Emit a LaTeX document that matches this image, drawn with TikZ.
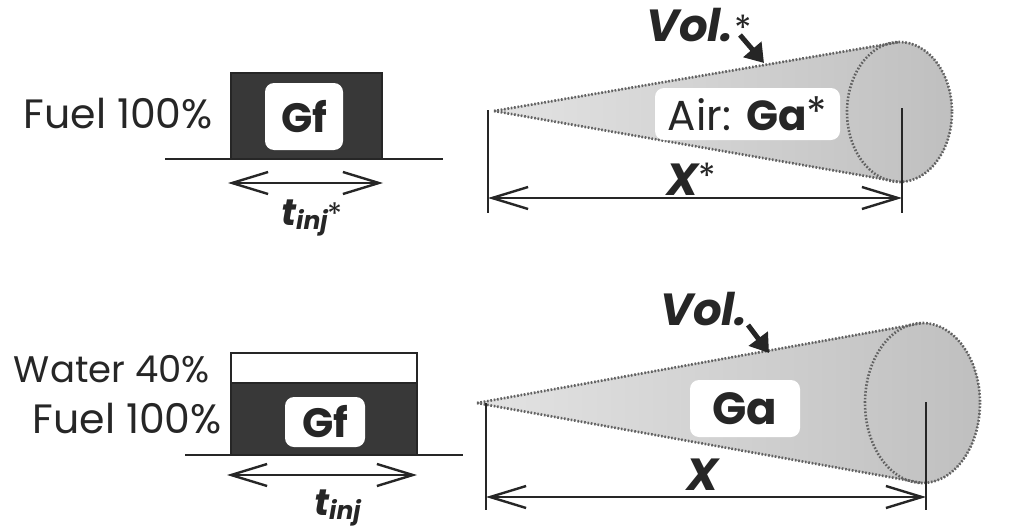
\documentclass[tikz,border=0pt]{standalone}
\usepackage{fontspec}
\setmainfont{Poppins}
\usetikzlibrary{arrows.meta}
\definecolor{ink}{gray}{0.15}
\definecolor{fueldark}{gray}{0.22}
\begin{document}
\begin{tikzpicture}[x=1pt,y=-1pt,
  lbl/.style={inner sep=0pt, text=ink, font=\fontsize{41}{41}\selectfont},
  fuelbox/.style={draw=ink, line width=2pt, fill=fueldark, inner sep=0pt},
  waterbox/.style={draw=ink, line width=2pt, fill=white, inner sep=0pt},
  gfbox/.style={fill=white, rounded corners=9pt, inner sep=0pt, text=ink,
     font=\fontsize{41}{41}\selectfont\bfseries},
  ground/.style={draw=ink, line width=2.2pt},
  dimarrow/.style={draw=ink, line width=2.4pt,
     {Straight Barb[length=36pt,width=22pt,line width=2.4pt]}-{Straight Barb[length=36pt,width=22pt,line width=2.4pt]}},
  tick/.style={draw=ink, line width=2.2pt},
  conefill/.style={left color=gray!22, right color=gray!50, draw=none},
  conedot/.style={draw=black!62, line width=2.6pt, dash pattern=on 1.6pt off 1.8pt},
  volarrow/.style={draw=ink, line width=5pt, -{Triangle[length=18pt,width=23pt]}},
  emlbl/.style={inner sep=0pt, text=ink, font=\fontsize{45}{45}\selectfont\bfseries\itshape},
  tlbl/.style={inner sep=0pt, text=ink, font=\fontsize{37}{37}\selectfont\bfseries\itshape},
]
\useasboundingbox (0,0) rectangle (1030,527);

% ================= TOP ROW =================
\node[fuelbox, minimum width=151pt, minimum height=86pt] (fb1) at (306.5,116) {};
\coordinate (g1a) at (165,159);
\coordinate (g1b) at (443,159);
\draw[ground] (g1a) -- (g1b);
\node[lbl, anchor=base east] (fuel1) at (213,128) {Fuel 100\%};
\node[gfbox, minimum width=78pt, minimum height=67pt] (gf1) at (304,116.5) {Gf};
\coordinate (t1a) at (228,183);
\coordinate (t1b) at (383,183);
\draw[dimarrow] (t1a) -- (t1b);
\node[tlbl, anchor=base west] (tinj1) at (281,225)
  {t\raisebox{-0.2ex}{\fontsize{25}{25}\selectfont inj}{\fontsize{31}{31}\selectfont\mdseries\upshape *}};

% cone top
\coordinate (apex1) at (494,111);
\coordinate (ct1) at (899.5,42);
\coordinate (cb1) at (899.5,182);
\fill[conefill] (apex1) -- (ct1) arc[start angle=-90, end angle=90, x radius=52.5, y radius=70] -- cycle;
\draw[conedot] (apex1) -- (ct1);
\draw[conedot] (apex1) -- (cb1);
\draw[conedot] (899.5,112) ellipse[x radius=52.5, y radius=70];
\node[gfbox, minimum width=185pt, minimum height=52pt, font=\fontsize{42}{42}\selectfont] (air1) at (747.5,114)
  {Air: \textbf{Ga}\raisebox{0.15ex}{*}};
\coordinate (xl1) at (488,110);
\coordinate (xl1b) at (488,213);
\coordinate (xr1) at (902,108);
\coordinate (xr1b) at (902,213);
\draw[tick] (xl1) -- (xl1b);
\draw[tick] (xr1) -- (xr1b);
\coordinate (d1a) at (488,198);
\coordinate (d1b) at (902,198);
\draw[dimarrow] (d1a) -- (d1b);
\node[emlbl, anchor=base west] (x1) at (666,195) {X\raisebox{0.2ex}{\fontsize{36}{36}\selectfont\mdseries\upshape *}};
\node[emlbl, anchor=base west] (vol1) at (646,42) {Vol.\hspace{1pt}{\fontsize{36}{36}\selectfont\mdseries\upshape *}};
\coordinate (va1) at (740,35);
\coordinate (vb1) at (764,63);
\draw[volarrow] (va1) -- (vb1);

% ================= BOTTOM ROW =================
\node[waterbox, minimum width=186pt, minimum height=30pt] (wb2) at (324,368) {};
\node[fuelbox, minimum width=186pt, minimum height=72pt] (fb2) at (324,419) {};
\coordinate (g2a) at (185,455);
\coordinate (g2b) at (463,455);
\draw[ground] (g2a) -- (g2b);
\node[lbl, anchor=base east, font=\fontsize{37}{37}\selectfont] (water2) at (210,382) {Water 40\%};
\node[lbl, anchor=base east] (fuel2) at (222,433) {Fuel 100\%};
\node[gfbox, minimum width=80pt, minimum height=50pt] (gf2) at (325,422) {Gf};
\coordinate (t2a) at (227,475);
\coordinate (t2b) at (417,475);
\draw[dimarrow] (t2a) -- (t2b);
\node[tlbl, anchor=base west] (tinj2) at (314,515)
  {t\raisebox{-0.2ex}{\fontsize{25}{25}\selectfont inj}};

% cone bottom
\coordinate (apex2) at (477,403);
\coordinate (ct2) at (922.5,323);
\coordinate (cb2) at (922.5,483);
\fill[conefill] (apex2) -- (ct2) arc[start angle=-90, end angle=90, x radius=57.5, y radius=80] -- cycle;
\draw[conedot] (apex2) -- (ct2);
\draw[conedot] (apex2) -- (cb2);
\draw[conedot] (922.5,403) ellipse[x radius=57.5, y radius=80];
\node[gfbox, minimum width=110pt, minimum height=57pt, font=\fontsize{45}{45}\selectfont\bfseries] (ga2) at (745,408.5) {Ga};
\coordinate (xl2) at (486,403);
\coordinate (xl2b) at (486,510);
\coordinate (xr2) at (926,402);
\coordinate (xr2b) at (926,510);
\draw[tick] (xl2) -- (xl2b);
\draw[tick] (xr2) -- (xr2b);
\coordinate (d2a) at (486,497);
\coordinate (d2b) at (926,497);
\draw[dimarrow] (d2a) -- (d2b);
\node[emlbl, anchor=base west] (x2) at (686,490) {X};
\node[emlbl, anchor=base west] (vol2) at (660,325) {Vol.};
\coordinate (va2) at (748,325);
\coordinate (vb2) at (769,353);
\draw[volarrow] (va2) -- (vb2);
\end{tikzpicture}
\end{document}
